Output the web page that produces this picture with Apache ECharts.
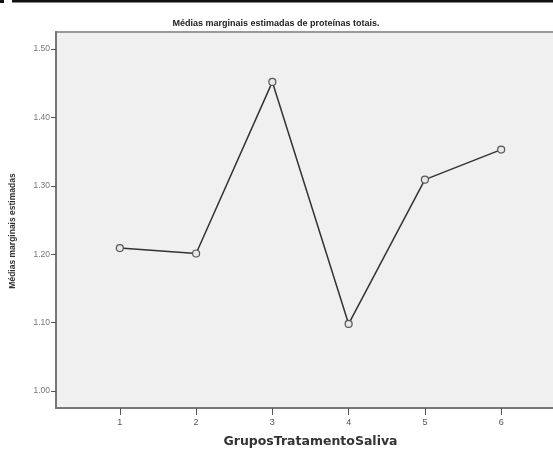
<!DOCTYPE html>
<html><head><meta charset="utf-8">
<script src="https://cdn.jsdelivr.net/npm/echarts@6/dist/echarts.min.js"></script>
<style>html,body{margin:0;padding:0;background:#fff}#c{width:553px;height:450px}</style>
</head><body><div id="c"></div>
<script>
var groups = [1, 2, 3, 4, 5, 6];
var means = [1.209, 1.201, 1.452, 1.098, 1.309, 1.353];
var yTicks = [1.00, 1.10, 1.20, 1.30, 1.40, 1.50];
var titleText = 'Médias marginais estimadas de proteínas totais.';
var yName = 'Médias marginais estimadas';
var xName = 'GruposTratamentoSaliva';

var chart = echarts.init(document.getElementById('c'), null, {renderer: 'canvas'});
chart.setOption({
  animation: false,
  backgroundColor: '#fff',
  title: {text: titleText, left: 271, textAlign: 'center', top: 14,
    textStyle: {fontSize: 9, fontWeight: 'bold', color: '#222', fontFamily: 'Liberation Sans'}},
  graphic: [
    {type: 'rect', shape: {x: 0, y: 0, width: 4, height: 3}, style: {fill: '#111'}},
    {type: 'rect', shape: {x: 12, y: 0, width: 541, height: 2.5}, style: {fill: '#111'}}
  ],
  grid: {left: 56, top: 32, right: -12, bottom: 42, show: true,
    outerBoundsMode: 'none', containLabel: false,
    backgroundColor: '#f0f0f0', borderColor: '#999', borderWidth: 2},
  xAxis: {type: 'value', min: 0.163, max: 6.837,
    name: xName, nameLocation: 'middle', nameGap: 27,
    nameTextStyle: {fontSize: 12.5, fontWeight: 'bold', color: '#333', fontFamily: 'DejaVu Sans'},
    axisLine: {show: true, onZero: false, lineStyle: {color: '#777', width: 2}},
    axisTick: {show: true, length: 7, customValues: groups, lineStyle: {color: '#555'}},
    axisLabel: {customValues: groups, fontSize: 9, color: '#555', margin: 10, fontFamily: 'Liberation Sans'},
    splitLine: {show: false}},
  yAxis: {type: 'value', min: 0.975, max: 1.525,
    name: yName, nameLocation: 'middle', nameGap: 39, nameRotate: 90,
    nameTextStyle: {fontSize: 8.5, fontWeight: 'bold', color: '#333', fontFamily: 'Liberation Sans',
      padding: [0, 22, 0, 0]},
    axisLine: {show: true, onZero: false, lineStyle: {color: '#777', width: 2}},
    axisTick: {show: true, length: 5, customValues: yTicks, lineStyle: {color: '#555'}},
    axisLabel: {customValues: yTicks, fontSize: 8.5, color: '#777', margin: 6, fontFamily: 'Liberation Sans',
      formatter: function (v) { return v.toFixed(2); }},
    splitLine: {show: false}},
  series: [{type: 'line', data: groups.map(function (g, i) { return [g, means[i]]; }),
    symbol: 'circle', symbolSize: 7, showSymbol: true,
    lineStyle: {color: '#333', width: 1.5},
    itemStyle: {color: '#e8e8e8', borderColor: '#555', borderWidth: 1.2}}]
});
</script></body></html>
